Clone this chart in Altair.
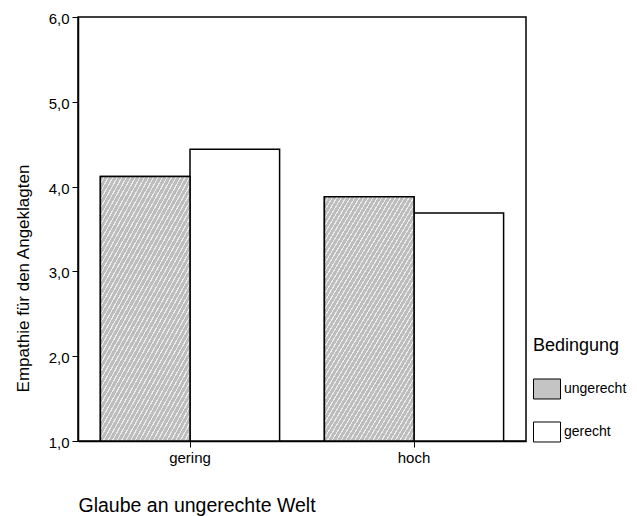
import altair as alt
import pandas as pd

niveau = ["gering", "gering", "hoch", "hoch"]
bedingung = ["ungerecht", "gerecht", "ungerecht", "gerecht"]
empathie = [4.12, 4.44, 3.88, 3.69]

cond_order = ["ungerecht", "gerecht"]
cond_colors = ["#c4c4c4", "#ffffff"]
y_ticks = [1, 2, 3, 4, 5, 6]

df = pd.DataFrame({"Niveau": niveau, "Bedingung": bedingung, "Empathie": empathie})

FONT = "Liberation Sans"

# diagonal hatch via a striped linear gradient (style only)
stops = []
n = 52
for i in range(n):
    a = i / n
    b = (i + 0.72) / n
    c = (i + 1) / n
    stops += [
        {"offset": a, "color": "#bdbdbd"},
        {"offset": b, "color": "#bdbdbd"},
        {"offset": b, "color": "#ececec"},
        {"offset": c, "color": "#ececec"},
    ]
hatch = {"gradient": "linear", "x1": 0, "y1": 0, "x2": 0.72, "y2": 1.17, "stops": stops}

x_enc = alt.X(
    "Niveau:N",
    sort=["gering", "hoch"],
    scale=alt.Scale(paddingInner=0.2, paddingOuter=0.1),
    axis=alt.Axis(
        title="Glaube an ungerechte Welt",
        labelAngle=0,
        labelFontSize=15,
        labelFont=FONT,
        labelColor="black",
        labelPadding=3,
        tickSize=6,
        tickColor="black",
        domainColor="black",
        domainWidth=1.5,
        titleFont=FONT,
        titleFontSize=19.5,
        titleFontWeight="normal",
        titleColor="black",
        titleAnchor="start",
        titleAlign="left",
        titleX=0,
        titleY=70,
        titleBaseline="alphabetic",
    ),
)
xo_enc = alt.XOffset("Bedingung:N", scale=alt.Scale(domain=cond_order, paddingInner=0, paddingOuter=0))
y_enc = alt.Y(
    "Empathie:Q",
    scale=alt.Scale(domain=[1, 6], zero=False, nice=False),
    axis=alt.Axis(
        title="Empathie für den Angeklagten",
        values=y_ticks,
        labelExpr="replace(format(datum.value, '.1f'), '.', ',')",
        labelFontSize=15,
        labelFont=FONT,
        labelColor="black",
        labelPadding=3,
        labelOffset=1.5,
        tickSize=6,
        tickColor="black",
        domainColor="black",
        domainWidth=1.5,
        grid=False,
        titleFont=FONT,
        titleFontSize=17,
        titleFontWeight="normal",
        titleColor="black",
        titleAngle=270,
        titleAlign="center",
        titleBaseline="middle",
        titleX=-55,
        titleY=261,
    ),
)

base = alt.Chart(df).mark_bar(stroke="black", strokeWidth=1.5).encode(
    x=x_enc,
    xOffset=xo_enc,
    y=y_enc,
    y2=alt.datum(1),
    fill=alt.Fill(
        "Bedingung:N",
        scale=alt.Scale(domain=cond_order, range=cond_colors),
        legend=alt.Legend(
            title="Bedingung",
            orient="none",
            legendX=455,
            legendY=320,
            titleFont=FONT,
            titleFontSize=18,
            titleFontWeight="normal",
            titleColor="black",
            titlePadding=20,
            labelFont=FONT,
            labelFontSize=14,
            labelColor="black",
            labelOffset=3,
            labelLimit=200,
            symbolType="M-1,-0.74H1V0.74H-1Z",
            symbolSize=729,
            symbolStrokeColor="black",
            symbolStrokeWidth=1,
            symbolOpacity=1,
            rowPadding=17,
        ),
    ),
)

overlay = alt.Chart(df).transform_filter(
    alt.datum.Bedingung == "ungerecht"
).mark_bar(stroke="black", strokeWidth=1.5, fill=hatch).encode(
    x=alt.X("Niveau:N", sort=["gering", "hoch"]),
    xOffset=alt.XOffset("Bedingung:N"),
    y=alt.Y("Empathie:Q"),
    y2=alt.datum(1),
)

chart = (
    alt.layer(base, overlay)
    .properties(
        width=448,
        height=424,
        autosize=alt.AutoSizeParams(type="none"),
        padding={"left": 70, "top": 9, "right": 103, "bottom": 75},
        background="white",
    )
    .configure_view(stroke="black", strokeWidth=1.5)
)

chart.save("out.html", embed_options={"renderer": "svg", "actions": False})
